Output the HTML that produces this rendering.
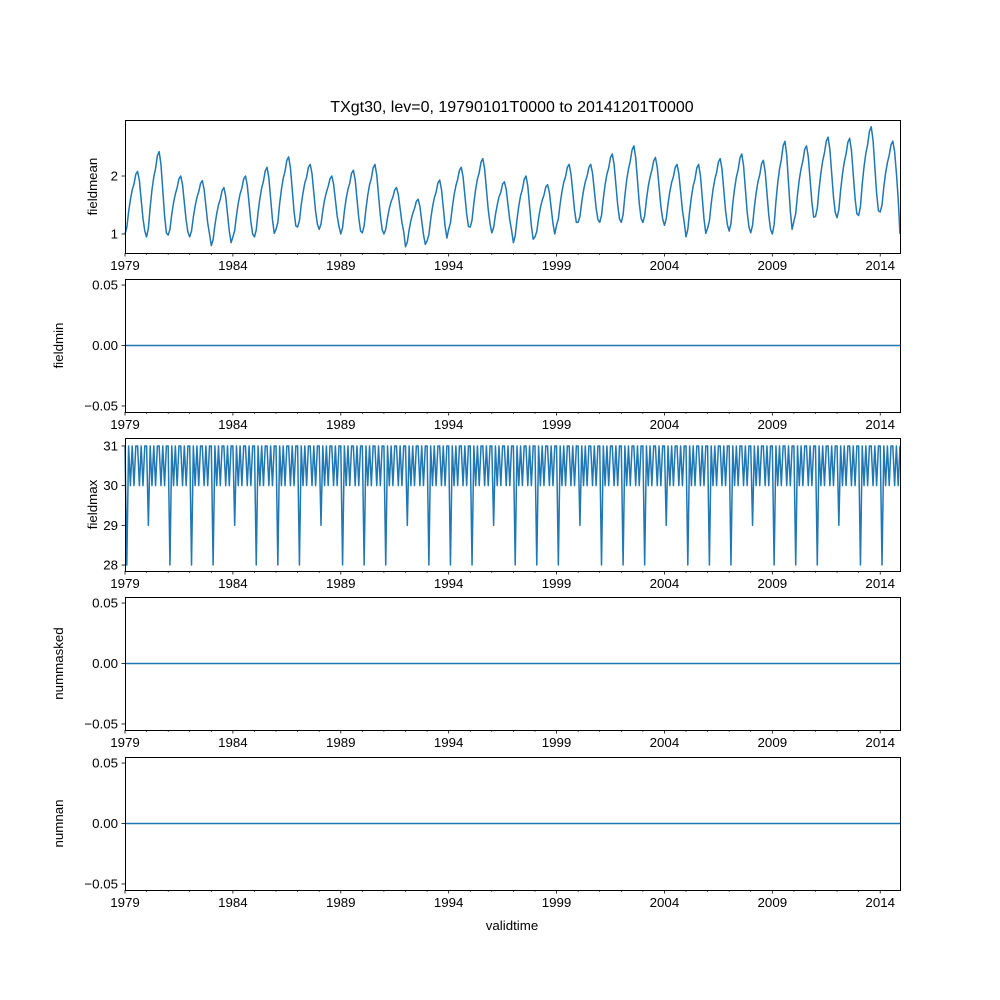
<!DOCTYPE html>
<html><head><meta charset="utf-8"><style>
html,body{margin:0;padding:0;background:#fff;}
svg{display:block;font-family:"Liberation Sans","DejaVu Sans",sans-serif;}
</style></head><body>
<svg id="chart" width="1000" height="1000" viewBox="0 0 1000 1000" xmlns="http://www.w3.org/2000/svg">
<rect width="1000" height="1000" fill="#fff"/>
<text x="512" y="112" font-size="16" text-anchor="middle">TXgt30, lev=0, 19790101T0000 to 20141201T0000</text>
<text x="512" y="930" font-size="13.3" text-anchor="middle">validtime</text>
</svg>
<script>
const years = [1979,1980,1981,1982,1983,1984,1985,1986,1987,1988,1989,1990,1991,1992,1993,1994,1995,1996,1997,1998,1999,2000,2001,2002,2003,2004,2005,2006,2007,2008,2009,2010,2011,2012,2013,2014];
const xTickLabels = ["1979","1984","1989","1994","1999","2004","2009","2014"];
const fieldmean = [
1.0,1.11,1.38,1.59,1.76,1.86,2.03,2.08,1.92,1.59,1.27,1.05,
.95,1.10,1.46,1.76,1.98,2.13,2.35,2.42,2.2,1.76,1.32,1.02,
.98,1.08,1.34,1.54,1.69,1.80,1.95,2.0,1.85,1.54,1.24,1.03,
.95,1.05,1.29,1.48,1.63,1.73,1.87,1.92,1.77,1.48,1.19,1.0,
.8,.9,1.15,1.35,1.5,1.6,1.75,1.8,1.65,1.35,1.05,.85,
.95,1.06,1.32,1.53,1.69,1.79,1.95,2.0,1.84,1.53,1.21,1.0,
.95,1.07,1.37,1.61,1.79,1.91,2.09,2.15,1.97,1.61,1.25,1.01,
1.08,1.2,1.52,1.77,1.96,2.08,2.27,2.33,2.14,1.77,1.39,1.14,
1.12,1.23,1.5,1.71,1.88,1.98,2.15,2.2,2.04,1.71,1.39,1.17,
1.08,1.17,1.4,1.59,1.72,1.82,1.95,2.0,1.86,1.59,1.31,1.13,
1.0,1.11,1.39,1.61,1.77,1.88,2.05,2.1,1.94,1.61,1.28,1.05,
1.02,1.14,1.43,1.67,1.85,1.96,2.14,2.2,2.02,1.67,1.32,1.08,
1.0,1.08,1.28,1.44,1.56,1.64,1.76,1.8,1.68,1.44,1.2,1.04,
.78,.86,1.07,1.23,1.35,1.44,1.56,1.6,1.48,1.23,.99,.82,
.88,.99,1.25,1.46,1.62,1.72,1.88,1.93,1.77,1.46,1.14,.93,
1.08,1.19,1.45,1.67,1.83,1.94,2.1,2.15,1.99,1.67,1.35,1.13,
1.12,1.24,1.53,1.77,1.95,2.06,2.24,2.3,2.12,1.77,1.42,1.18,
1.02,1.11,1.33,1.5,1.64,1.72,1.86,1.9,1.77,1.5,1.24,1.06,
.85,.97,1.25,1.48,1.66,1.77,1.94,2.0,1.83,1.48,1.14,.91,
.95,1.04,1.27,1.45,1.58,1.67,1.81,1.85,1.72,1.45,1.18,1.0,
1.15,1.26,1.52,1.73,1.89,1.99,2.15,2.2,2.04,1.73,1.41,1.2,
1.2,1.3,1.55,1.75,1.9,2.0,2.15,2.2,2.05,1.75,1.45,1.25,
1.2,1.32,1.61,1.85,2.03,2.14,2.32,2.38,2.2,1.85,1.5,1.26,
1.2,1.33,1.66,1.93,2.12,2.26,2.45,2.52,2.32,1.93,1.53,1.27,
1.2,1.31,1.59,1.82,1.98,2.1,2.26,2.32,2.15,1.82,1.48,1.26,
1.15,1.26,1.52,1.73,1.89,1.99,2.15,2.2,2.04,1.73,1.41,1.2,
.95,1.08,1.39,1.64,1.83,1.95,2.14,2.2,2.01,1.64,1.26,1.01,
1.1,1.22,1.52,1.76,1.94,2.06,2.24,2.3,2.12,1.76,1.4,1.16,
1.05,1.18,1.52,1.78,1.98,2.11,2.31,2.38,2.18,1.78,1.38,1.12,
1.02,1.15,1.46,1.71,1.9,2.02,2.21,2.27,2.08,1.71,1.33,1.08,
1.0,1.16,1.56,1.88,2.12,2.28,2.52,2.6,2.36,1.88,1.4,1.08,
1.22,1.35,1.68,1.94,2.13,2.26,2.46,2.52,2.33,1.94,1.55,1.29,
1.3,1.44,1.78,2.05,2.26,2.4,2.6,2.67,2.46,2.05,1.64,1.37,
1.28,1.42,1.76,2.03,2.24,2.38,2.58,2.65,2.44,2.03,1.62,1.35,
1.32,1.47,1.86,2.16,2.39,2.54,2.77,2.85,2.62,2.16,1.7,1.4,
1.38,1.5,1.81,2.05,2.23,2.36,2.54,2.6,2.42,2.05,1.6,1.0];
const fieldmax = [
31,28,31,30,31,30,31,31,30,31,30,31, 31,29,31,30,31,30,31,31,30,31,30,31,
31,28,31,30,31,30,31,31,30,31,30,31, 31,28,31,30,31,30,31,31,30,31,30,31,
31,28,31,30,31,30,31,31,30,31,30,31, 31,29,31,30,31,30,31,31,30,31,30,31,
31,28,31,30,31,30,31,31,30,31,30,31, 31,28,31,30,31,30,31,31,30,31,30,31,
31,28,31,30,31,30,31,31,30,31,30,31, 31,29,31,30,31,30,31,31,30,31,30,31,
31,28,31,30,31,30,31,31,30,31,30,31, 31,28,31,30,31,30,31,31,30,31,30,31,
31,28,31,30,31,30,31,31,30,31,30,31, 31,29,31,30,31,30,31,31,30,31,30,31,
31,28,31,30,31,30,31,31,30,31,30,31, 31,28,31,30,31,30,31,31,30,31,30,31,
31,28,31,30,31,30,31,31,30,31,30,31, 31,29,31,30,31,30,31,31,30,31,30,31,
31,28,31,30,31,30,31,31,30,31,30,31, 31,28,31,30,31,30,31,31,30,31,30,31,
31,28,31,30,31,30,31,31,30,31,30,31, 31,29,31,30,31,30,31,31,30,31,30,31,
31,28,31,30,31,30,31,31,30,31,30,31, 31,28,31,30,31,30,31,31,30,31,30,31,
31,28,31,30,31,30,31,31,30,31,30,31, 31,29,31,30,31,30,31,31,30,31,30,31,
31,28,31,30,31,30,31,31,30,31,30,31, 31,28,31,30,31,30,31,31,30,31,30,31,
31,28,31,30,31,30,31,31,30,31,30,31, 31,29,31,30,31,30,31,31,30,31,30,31,
31,28,31,30,31,30,31,31,30,31,30,31, 31,28,31,30,31,30,31,31,30,31,30,31,
31,28,31,30,31,30,31,31,30,31,30,31, 31,29,31,30,31,30,31,31,30,31,30,31,
31,28,31,30,31,30,31,31,30,31,30,31, 31,28,31,30,31,30,31,31,30,31,30,31];
const fieldminValue = [0];
const nummaskedValue = [0];
const numnanValue = [0];
const meanTicks = [1,2];
const maxTicks = [28,29,30,31];
const zeroTicks = [-0.05,0,0.05];

const svg = document.getElementById('chart');
const NS = 'http://www.w3.org/2000/svg';
const X0 = 125, X1 = 900, NM = 432;
function xScale(m){ return X0 + m/(NM-1)*(X1-X0); }
function mk(tag, attrs){ const e=document.createElementNS(NS,tag); for(const k in attrs) e.setAttribute(k,attrs[k]); return e; }

const panels = [
 {name:'fieldmean', top:120, bot:253, ymin:0.672, ymax:2.966, ticks:meanTicks, fmt:v=>String(v), data:fieldmean},
 {name:'fieldmin', top:279, bot:412, ymin:-0.055, ymax:0.055, ticks:zeroTicks, fmt:v=>v.toFixed(2).replace('-','\u2212'), data:fieldminValue},
 {name:'fieldmax', top:438, bot:571, ymin:27.85, ymax:31.2, ticks:maxTicks, fmt:v=>String(v), data:fieldmax},
 {name:'nummasked', top:597, bot:730, ymin:-0.055, ymax:0.055, ticks:zeroTicks, fmt:v=>v.toFixed(2).replace('-','\u2212'), data:nummaskedValue},
 {name:'numnan', top:757, bot:890, ymin:-0.055, ymax:0.055, ticks:zeroTicks, fmt:v=>v.toFixed(2).replace('-','\u2212'), data:numnanValue}
];

panels.forEach(p=>{
  const g = mk('g',{});
  
  
  svg.appendChild(g);
  const yS = v => p.bot - (v-p.ymin)/(p.ymax-p.ymin)*(p.bot-p.top);
  let d='';
  if(p.data.length===1){
    d = 'M'+X0+','+yS(p.data[0])+'L'+X1+','+yS(p.data[0]);
  } else {
    p.data.forEach((v,i)=>{ d += (i?'L':'M')+xScale(i).toFixed(2)+','+yS(v).toFixed(2); });
  }
  const line = mk('path',{d:d, fill:'none', stroke:'#1f77b4', 'stroke-width':'1.5', 'stroke-linejoin':'round'});
  
  
  g.appendChild(line);
  const fr = mk('rect',{x:X0+0.5, y:p.top+0.5, width:X1-X0, height:p.bot-p.top, fill:'none', stroke:'#000', 'stroke-width':'1'});
  
  
  g.appendChild(fr);
  p.ticks.forEach(t=>{
    const y = yS(t);
    g.appendChild(mk('line',{x1:X0-3.5, x2:X0, y1:y, y2:y, stroke:'#000','stroke-width':'0.8'}));
    const tx = mk('text',{x:X0-7, y:y+4.5, 'font-size':'13.3','text-anchor':'end'});
    
    
    tx.textContent = p.fmt(t);
    g.appendChild(tx);
  });
  const yl = mk('text',{x:0,y:0,'font-size':'13.3','text-anchor':'middle', transform:'translate('+(p.ticks===zeroTicks?63:97)+','+((p.top+p.bot)/2)+') rotate(-90)'});
  
  
  yl.textContent = p.name;
  g.appendChild(yl);
  years.forEach((yr,i)=>{
    const x = xScale(i*12);
    const major = (yr-1979)%5===0;
    g.appendChild(mk('line',{x1:x,x2:x,y1:p.bot,y2:p.bot+(major?3.5:2),stroke:'#000','stroke-width':major?'0.8':'0.6'}));
  });
  xTickLabels.forEach(lbl=>{
    const x = xScale((+lbl-1979)*12);
    const tx = mk('text',{x:x, y:p.bot+17, 'font-size':'13.3','text-anchor':'middle'});
    
    
    tx.textContent = lbl;
    g.appendChild(tx);
  });
});
</script>
</body></html>
